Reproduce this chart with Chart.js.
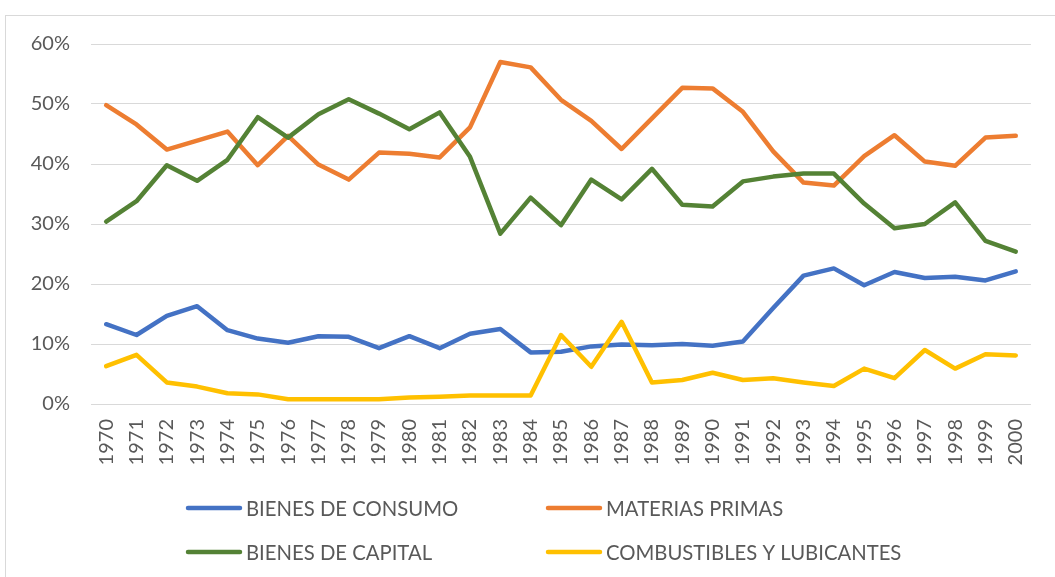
<!DOCTYPE html>
<html>
<head>
<meta charset="utf-8">
<script src="https://cdn.jsdelivr.net/npm/chart.js@4/dist/chart.umd.min.js"></script>
<style>
html,body{margin:0;padding:0;background:#fff;overflow:hidden;}
#wrap{position:relative;width:1055px;height:577px;}
canvas{display:block;}
</style>
</head>
<body>
<div id="wrap"><canvas id="c" width="1055" height="577"></canvas></div>
<script>
const years = ["1970","1971","1972","1973","1974","1975","1976","1977","1978","1979","1980","1981","1982","1983","1984","1985","1986","1987","1988","1989","1990","1991","1992","1993","1994","1995","1996","1997","1998","1999","2000"];
const bienesConsumo = [13.3,11.5,14.7,16.3,12.3,10.9,10.2,11.3,11.2,9.3,11.3,9.3,11.7,12.5,8.6,8.7,9.6,9.9,9.8,10.0,9.7,10.4,16.0,21.4,22.6,19.8,22.0,21.0,21.2,20.6,22.1];
const materiasPrimas = [49.8,46.6,42.4,43.9,45.4,39.8,44.7,39.9,37.4,41.9,41.7,41.1,46.1,57.0,56.1,50.7,47.2,42.5,47.6,52.7,52.6,48.7,42.1,36.9,36.4,41.3,44.8,40.4,39.7,44.4,44.7];
const bienesCapital = [30.4,33.8,39.8,37.2,40.7,47.8,44.4,48.3,50.8,48.4,45.8,48.6,41.2,28.4,34.4,29.8,37.4,34.1,39.2,33.2,32.9,37.1,37.9,38.4,38.4,33.4,29.3,30.0,33.6,27.2,25.4];
const combustibles = [6.3,8.2,3.6,2.9,1.8,1.6,0.8,0.8,0.8,0.8,1.1,1.2,1.4,1.4,1.4,11.5,6.2,13.7,3.6,4.0,5.2,4.0,4.3,3.6,3.0,5.9,4.3,9.0,5.9,8.3,8.1];
const seriesNames = ["BIENES DE CONSUMO","MATERIAS PRIMAS","BIENES DE CAPITAL","COMBUSTIBLES Y LUBICANTES"];
const seriesColors = ["#4472C4","#ED7D31","#548235","#FFC000"];
const yTicks = [0,10,20,30,40,50,60];

const FONT = "Lato, 'Liberation Sans', sans-serif";
const TXT = "#595959";

function ds(i, data){
  return {label: seriesNames[i], data: data, borderColor: seriesColors[i], backgroundColor: seriesColors[i],
    borderWidth: 4.5, pointRadius: 0, pointHoverRadius: 0, tension: 0, fill: false,
    borderCapStyle: 'round', borderJoinStyle: 'round', order: 3 - i};
}

const framePlugin = {
  id: 'frame',
  beforeDraw(chart){
    const ctx = chart.ctx;
    ctx.save();
    ctx.strokeStyle = '#d9d9d9';
    ctx.lineWidth = 1;
    ctx.strokeRect(5.5, 15.5, 1200, 800);
    ctx.restore();
  }
};

const legendPlugin = {
  id: 'customLegend',
  afterDraw(chart){
    const ctx = chart.ctx;
    const pos = [[186,508],[546,508],[186,552],[546,552]];
    ctx.save();
    ctx.font = "20.3px " + FONT;
    ctx.fillStyle = TXT;
    ctx.textBaseline = 'middle';
    ctx.textAlign = 'left';
    chart.data.datasets.forEach((d, i) => {
      const [x, y] = pos[i];
      ctx.strokeStyle = d.borderColor;
      ctx.lineWidth = 4.5;
      ctx.lineCap = 'round';
      ctx.beginPath();
      ctx.moveTo(x + 2, y);
      ctx.lineTo(x + 54, y);
      ctx.stroke();
      ctx.fillText(d.label, x + 60, y + 1);
    });
    ctx.restore();
  }
};

new Chart(document.getElementById('c'), {
  type: 'line',
  data: {
    labels: years,
    datasets: [ds(0, bienesConsumo), ds(1, materiasPrimas), ds(2, bienesCapital), ds(3, combustibles)]
  },
  options: {
    responsive: false,
    animation: false,
    devicePixelRatio: 1,
    layout: {padding: {top: 44, right: 14, bottom: 103, left: 0}},
    plugins: {legend: {display: false}, title: {display: false}, tooltip: {enabled: false}},
    scales: {
      x: {
        offset: true,
        grid: {display: false, drawTicks: false},
        border: {display: false},
        ticks: {color: TXT, font: {family: FONT, size: 20}, minRotation: 90, maxRotation: 90, padding: 15, autoSkip: false},
        afterFit(s){ s.height = 70; }
      },
      y: {
        min: 0, max: 60,
        afterBuildTicks(s){ s.ticks = yTicks.map(v => ({value: v})); },
        grid: {color: '#d9d9d9', lineWidth: 1, drawTicks: false},
        border: {display: false},
        ticks: {color: TXT, font: {family: FONT, size: 20}, padding: 21, callback: v => v + '%'},
        afterFit(s){ s.width = 91; }
      }
    }
  },
  plugins: [framePlugin, legendPlugin]
});
</script>
</body>
</html>
